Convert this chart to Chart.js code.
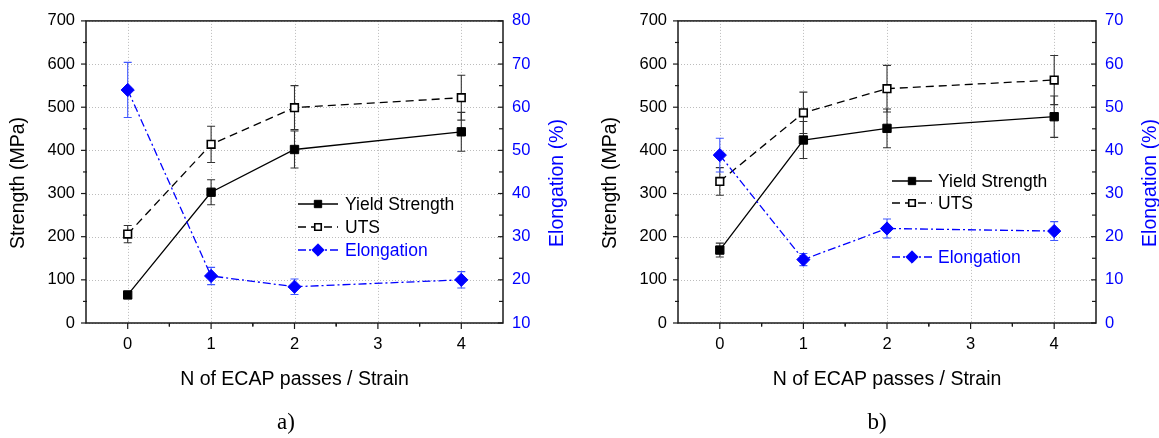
<!DOCTYPE html>
<html><head><meta charset="utf-8">
<script src="https://cdn.jsdelivr.net/npm/chart.js@4.4.1/dist/chart.umd.min.js"></script>
<style>
html,body{margin:0;padding:0;background:#fff;}
#wrap{position:relative;width:1159px;height:438px;overflow:hidden;background:#fff;}
canvas{position:absolute;top:0;}
</style></head><body>
<div id="wrap">
<canvas id="ca" width="580" height="438" style="left:0px"></canvas>
<canvas id="cb" width="579" height="438" style="left:580px"></canvas>
</div>
<script>
// ---- data ----
const passes = [0, 1, 2, 4];
const xTicks = [0, 1, 2, 3, 4];
const strengthTicks = [0, 100, 200, 300, 400, 500, 600, 700];
const elongTicksA = [10, 20, 30, 40, 50, 60, 70, 80];
const elongTicksB = [0, 10, 20, 30, 40, 50, 60, 70];

const yieldA = [65, 303, 402, 443];
const yieldErrA = [8, 29, 43, 45];
const utsA = [206, 414, 499, 522];
const utsErrA = [20, 42, 51, 52];
const elongA = [64.0, 20.9, 18.4, 20.0];
const elongErrA = [6.4, 2.0, 1.8, 1.9];

const yieldB = [169, 424, 451, 478];
const yieldErrB = [16, 43, 45, 48];
const utsB = [328, 487, 543, 563];
const utsErrB = [32, 48, 54, 57];
const elongB = [38.9, 14.7, 21.9, 21.3];
const elongErrB = [3.9, 1.4, 2.2, 2.2];

const seriesNames = ['Yield Strength', 'UTS', 'Elongation'];
const xTitle = 'N of ECAP passes / Strain';
const leftTitle = 'Strength (MPa)';
const rightTitle = 'Elongation (%)';
const panelLabels = ['a)', 'b)'];

// ---- styling ----
const BLUE = '#0000ff';
const SANS = "'Liberation Sans', Arial, sans-serif";
const SERIF = "'Liberation Serif', 'Times New Roman', serif";
const styles = [
  {color: '#000', dash: [], marker: 'rect', fill: '#000', r: 5.9, bw: 1, errColor: '#333', legendR: 5.2},
  {color: '#000', dash: [8, 5], marker: 'rect', fill: '#fff', r: 5.4, bw: 1.6, errColor: '#333', legendR: 4.6},
  {color: BLUE, dash: [8, 3, 2, 3], marker: 'rectRot', fill: BLUE, r: 6.6, bw: 1, errColor: '#4058ff', legendR: 6.2}
];

function drawMarker(ctx, style, x, y, r) {
  ctx.save();
  ctx.setLineDash([]);
  ctx.beginPath();
  if (style.marker === 'rect') {
    const s = Math.SQRT1_2 * r;
    ctx.rect(x - s, y - s, 2 * s, 2 * s);
  } else {
    ctx.moveTo(x, y - r); ctx.lineTo(x + r, y); ctx.lineTo(x, y + r); ctx.lineTo(x - r, y); ctx.closePath();
  }
  ctx.fillStyle = style.fill; ctx.fill();
  ctx.strokeStyle = style.color; ctx.lineWidth = style.bw; ctx.stroke();
  ctx.restore();
}

const panelPlugin = {
  id: 'panel',
  beforeDatasetsDraw(chart, args, o) {
    const {ctx, chartArea: a, scales} = chart;
    const sx = scales.x, yl = scales.yL;
    ctx.save();
    ctx.strokeStyle = '#bcbcbc'; ctx.lineWidth = 1; ctx.setLineDash([1, 2]);
    sx.ticks.forEach(t => {
      const px = Math.round(sx.getPixelForValue(t.value)) + 0.5;
      ctx.beginPath(); ctx.moveTo(px, a.top); ctx.lineTo(px, a.bottom); ctx.stroke();
    });
    yl.ticks.forEach(t => {
      const py = Math.round(yl.getPixelForValue(t.value)) + 0.5;
      ctx.beginPath(); ctx.moveTo(a.left, py); ctx.lineTo(a.right, py); ctx.stroke();
    });
    ctx.setLineDash([]);
    // error bars
    chart.data.datasets.forEach((ds, i) => {
      const meta = chart.getDatasetMeta(i);
      const sc = scales[meta.yAxisID];
      const st = styles[i];
      ctx.strokeStyle = st.errColor; ctx.lineWidth = 1.1;
      ds.data.forEach((pt, j) => {
        const e = ds.errors[j];
        const px = sx.getPixelForValue(pt.x);
        const p1 = sc.getPixelForValue(pt.y + e), p2 = sc.getPixelForValue(pt.y - e);
        ctx.beginPath();
        ctx.moveTo(px, p1); ctx.lineTo(px, p2);
        ctx.moveTo(px - 4, p1); ctx.lineTo(px + 4, p1);
        ctx.moveTo(px - 4, p2); ctx.lineTo(px + 4, p2);
        ctx.stroke();
      });
    });
    ctx.restore();
  },
  afterDraw(chart, args, o) {
    const {ctx, chartArea: a, scales} = chart;
    const sx = scales.x, yl = scales.yL, yr = scales.yR;
    ctx.save();
    // frame
    ctx.strokeStyle = '#1a1a1a'; ctx.lineWidth = 1.5; ctx.setLineDash([]);
    ctx.strokeRect(a.left, a.top, a.right - a.left, a.bottom - a.top);
    // ticks: left & bottom outward, right inward
    ctx.lineWidth = 1.2;
    const lt = yl.ticks.map(t => t.value);
    lt.forEach((v, k) => {
      const py = yl.getPixelForValue(v);
      ctx.beginPath(); ctx.moveTo(a.left, py); ctx.lineTo(a.left - 5, py); ctx.stroke();
      if (k < lt.length - 1) {
        const pm = yl.getPixelForValue((v + lt[k + 1]) / 2);
        ctx.beginPath(); ctx.moveTo(a.left + 1, pm); ctx.lineTo(a.left - 3, pm); ctx.stroke();
      }
    });
    const rt = yr.ticks.map(t => t.value);
    rt.forEach((v, k) => {
      const py = yr.getPixelForValue(v);
      ctx.beginPath(); ctx.moveTo(a.right, py); ctx.lineTo(a.right - 5, py); ctx.stroke();
      if (k < rt.length - 1) {
        const pm = yr.getPixelForValue((v + rt[k + 1]) / 2);
        ctx.beginPath(); ctx.moveTo(a.right, pm); ctx.lineTo(a.right - 4, pm); ctx.stroke();
      }
    });
    const xt = sx.ticks.map(t => t.value);
    xt.forEach(v => {
      const px = sx.getPixelForValue(v);
      ctx.beginPath(); ctx.moveTo(px, a.bottom); ctx.lineTo(px, a.bottom + 6); ctx.stroke();
      [v - 0.5, v + 0.5].forEach(m => {
        if (m > sx.min && m < sx.max && !xt.includes(m)) {
          const pm = sx.getPixelForValue(m);
          ctx.beginPath(); ctx.moveTo(pm, a.bottom); ctx.lineTo(pm, a.bottom + 3.5); ctx.stroke();
        }
      });
    });
    // legend
    const L = o.legend;
    ctx.font = '17.5px ' + SANS; ctx.textBaseline = 'middle'; ctx.textAlign = 'left';
    chart.data.datasets.forEach((ds, i) => {
      const st = styles[i];
      const y = L.ys[i];
      ctx.strokeStyle = st.color; ctx.lineWidth = 1.3; ctx.setLineDash(st.dash);
      ctx.beginPath(); ctx.moveTo(L.x0, y); ctx.lineTo(L.x1, y); ctx.stroke();
      ctx.setLineDash([]);
      drawMarker(ctx, st, L.xm, y, st.legendR);
      ctx.fillStyle = st.color;
      ctx.fillText(ds.label, L.xt, y + 1);
    });
    // axis titles
    const cy = o.titleY;
    ctx.textAlign = 'center'; ctx.textBaseline = 'middle';
    ctx.font = '19.5px ' + SANS;
    ctx.fillStyle = '#000';
    ctx.save(); ctx.translate(o.leftTitleX, cy); ctx.rotate(-Math.PI / 2); ctx.fillText(leftTitle, 0, 0); ctx.restore();
    ctx.fillStyle = BLUE;
    ctx.save(); ctx.translate(o.rightTitleX, cy); ctx.rotate(-Math.PI / 2); ctx.fillText(rightTitle, 0, 0); ctx.restore();
    ctx.fillStyle = '#000';
    ctx.fillText(xTitle, (a.left + a.right) / 2, 380);
    ctx.font = '23px ' + SERIF;
    ctx.fillText(o.label, o.labelX, 423);
    ctx.restore();
  }
};

function pts(vals) { return vals.map((v, i) => ({x: passes[i], y: v})); }

function build(id, p) {
  const ds = (k, vals, errs, axis, order) => ({
    label: seriesNames[k], data: pts(vals), errors: errs, yAxisID: axis, order: order,
    borderColor: styles[k].color, borderWidth: 1.3, borderDash: styles[k].dash,
    pointStyle: styles[k].marker, pointRadius: styles[k].r, pointHoverRadius: styles[k].r,
    pointBackgroundColor: styles[k].fill, pointBorderColor: styles[k].color,
    pointBorderWidth: styles[k].bw, fill: false, tension: 0
  });
  return new Chart(document.getElementById(id), {
    type: 'line',
    data: {datasets: [
      ds(0, p.yieldV, p.yieldE, 'yL', 1),
      ds(1, p.utsV, p.utsE, 'yL', 2),
      ds(2, p.elV, p.elE, 'yR', 0)
    ]},
    options: {
      responsive: false, animation: false, devicePixelRatio: 1,
      layout: {padding: {top: 16, left: 0, right: 0, bottom: 0}},
      plugins: {legend: {display: false}, tooltip: {enabled: false},
        panel: {legend: p.legend, label: p.label, labelX: p.labelX, leftTitleX: p.leftTitleX, rightTitleX: p.rightTitleX, titleY: 183}},
      scales: {
        x: {type: 'linear', min: -0.5, max: 4.5,
          afterBuildTicks: s => { s.ticks = xTicks.map(v => ({value: v})); },
          afterFit: s => { s.height = 115; },
          grid: {display: false, drawTicks: false}, border: {display: false},
          ticks: {font: {family: SANS, size: 16.5}, color: '#000', padding: 12}},
        yL: {type: 'linear', position: 'left', min: strengthTicks[0], max: strengthTicks[strengthTicks.length - 1],
          afterBuildTicks: s => { s.ticks = strengthTicks.map(v => ({value: v})); },
          afterFit: s => { s.width = p.leftW; },
          grid: {display: false, drawTicks: false}, border: {display: false},
          ticks: {font: {family: SANS, size: 16.5}, color: '#000', padding: 11}},
        yR: {type: 'linear', position: 'right', min: p.elTicks[0], max: p.elTicks[p.elTicks.length - 1],
          afterBuildTicks: s => { s.ticks = p.elTicks.map(v => ({value: v})); },
          afterFit: s => { s.width = p.rightW; },
          grid: {display: false, drawTicks: false}, border: {display: false},
          ticks: {font: {family: SANS, size: 16.5}, color: BLUE, padding: 9}}
      }
    },
    plugins: [panelPlugin]
  });
}

build('ca', {yieldV: yieldA, yieldE: yieldErrA, utsV: utsA, utsE: utsErrA, elV: elongA, elE: elongErrA,
  elTicks: elongTicksA, leftW: 86, rightW: 77, label: panelLabels[0], labelX: 286, leftTitleX: 19, rightTitleX: 558,
  legend: {x0: 298, x1: 338, xm: 318, xt: 345, ys: [204, 227, 250]}});
build('cb', {yieldV: yieldB, yieldE: yieldErrB, utsV: utsB, utsE: utsErrB, elV: elongB, elE: elongErrB,
  elTicks: elongTicksB, leftW: 98, rightW: 63, label: panelLabels[1], labelX: 297, leftTitleX: 31, rightTitleX: 571,
  legend: {x0: 312, x1: 352, xm: 332, xt: 358, ys: [181, 203, 257]}});
</script>
</body></html>
